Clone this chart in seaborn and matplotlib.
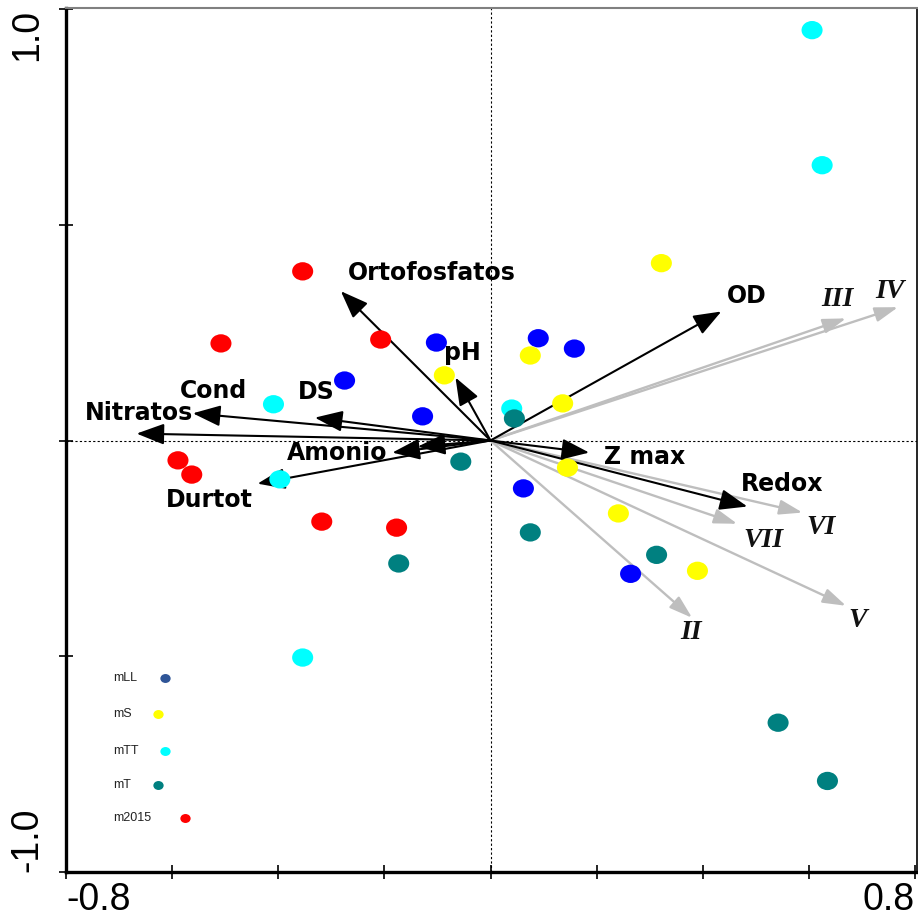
import numpy as np
import pandas as pd
import matplotlib
matplotlib.use("Agg")
import matplotlib.pyplot as plt
from matplotlib.path import Path
from matplotlib.transforms import Affine2D
import seaborn as sns

# ---------------- data ----------------
groups = ["mLL", "mS", "mTT", "mT", "m2015"]

mLL_x = [-0.102, -0.275, -0.128, 0.090, 0.158, 0.062, 0.264]
mLL_y = [0.227, 0.139, 0.056, 0.237, 0.213, -0.111, -0.309]

mS_x = [0.322, 0.075, -0.087, 0.136, 0.145, 0.241, 0.390]
mS_y = [0.411, 0.197, 0.151, 0.086, -0.063, -0.169, -0.302]

mTT_x = [0.606, 0.625, -0.409, 0.040, -0.397, -0.354]
mTT_y = [0.951, 0.638, 0.084, 0.074, -0.090, -0.503]

mT_x = [0.045, -0.056, 0.075, -0.173, 0.313, 0.542, 0.635]
mT_y = [0.051, -0.049, -0.213, -0.285, -0.265, -0.654, -0.789]

m2015_x = [-0.354, -0.508, -0.207, -0.589, -0.563, -0.318, -0.177]
m2015_y = [0.392, 0.225, 0.234, -0.046, -0.079, -0.188, -0.202]

env_names = ["Ortofosfatos", "pH", "Cond", "Nitratos", "DS", "Amonio", "",
             "Durtot", "OD", "Z max", "Redox"]
env_x = [-0.282, -0.066, -0.561, -0.667, -0.331, -0.185, -0.137,
         -0.439, 0.435, 0.186, 0.484]
env_y = [0.346, 0.146, 0.063, 0.016, 0.053, -0.028, -0.014,
         -0.100, 0.299, -0.028, -0.153]

sp_names = ["III", "IV", "VI", "VII", "V", "II"]
sp_x = [0.670, 0.768, 0.588, 0.465, 0.670, 0.380]
sp_y = [0.283, 0.309, -0.167, -0.193, -0.383, -0.411]

xtick_vals = [-0.8, -0.6, -0.4, -0.2, 0.0, 0.2, 0.4, 0.6, 0.8]
xtick_labels = ["-0.8", "", "", "", "", "", "", "", "0.8"]
ytick_vals = [-1.0, -0.5, 0.0, 0.5, 1.0]
ytick_labels = ["-1.0", "", "", "", "1.0"]

# ---------------- styles (layout) ----------------
point_colors = {"mLL": "#0000FF", "mS": "#FFFF00", "mTT": "#00FFFF",
                "mT": "#008080", "m2015": "#FF0000"}
legend_colors = {"mLL": "#2F5597", "mS": "#FFFF00", "mTT": "#00FFFF",
                 "mT": "#008080", "m2015": "#FF0000"}
# label offsets from arrow tips, in pixels
env_offsets = {"Ortofosfatos": (91, 18), "pH": (7, 25), "Cond": (21, 22),
               "Nitratos": (2, 21), "DS": (1, 26), "Amonio": (-55, 0),
               "Durtot": (-48, -16), "OD": (25, 15), "Z max": (55, -4),
               "Redox": (35, 23)}
sp_offsets = {"III": (-9, 19), "IV": (-8, 16), "VI": (18, -15),
              "VII": (26, -17), "V": (12, -15), "II": (-1, -15)}

df = pd.DataFrame({
    "x": mLL_x + mS_x + mTT_x + mT_x + m2015_x,
    "y": mLL_y + mS_y + mTT_y + mT_y + m2015_y,
    "group": (["mLL"] * len(mLL_x) + ["mS"] * len(mS_x) + ["mTT"] * len(mTT_x)
              + ["mT"] * len(mT_x) + ["m2015"] * len(m2015_x)),
})

sns.set_style("white")
plt.rcParams["font.family"] = ["DejaVu Sans"]

W, H = 918, 916
fig = plt.figure(figsize=(W / 100, H / 100), dpi=100)
L, R, T, B = 66, 917, 8, 872
ax = fig.add_axes([L / W, (H - B) / H, (R - L) / W, (B - T) / H])
ax.set_xlim(-0.8, 0.8 + 2 / 531)
ax.set_ylim(-1.0, 1.0 + 1 / 431)

# zero lines
ax.axhline(0, color="black", lw=0.8, ls=(0, (2, 2)), zorder=1)
ax.axvline(0, color="black", lw=0.8, ls=(0, (2, 2)), zorder=1)

# arrows
for name, x, y in zip(sp_names, sp_x, sp_y):
    ax.annotate("", xy=(x, y), xytext=(0, 0),
                arrowprops=dict(arrowstyle="-|>,head_length=1.0,head_width=0.32",
                                mutation_scale=14, color="#BEBEBE", lw=1.7,
                                shrinkA=0, shrinkB=0), zorder=2)
    dx, dy = sp_offsets[name]
    ax.annotate(name, xy=(x, y), xytext=(dx, dy), textcoords="offset pixels",
                ha="center", va="center", fontsize=20, fontweight="bold",
                fontstyle="italic", family=["Liberation Serif", "DejaVu Serif"],
                color="#111111", zorder=6)

for name, x, y in zip(env_names, env_x, env_y):
    ax.annotate("", xy=(x, y), xytext=(0, 0),
                arrowprops=dict(arrowstyle="-|>,head_length=1.0,head_width=0.38",
                                mutation_scale=17, color="black", lw=1.5,
                                shrinkA=0, shrinkB=0), zorder=3)
    if name:
        dx, dy = env_offsets[name]
        ax.annotate(name, xy=(x, y), xytext=(dx, dy), textcoords="offset pixels",
                    ha="center", va="center", fontsize=17, fontweight="bold",
                    color="black", zorder=6)

# points
ell = Path.unit_circle().transformed(Affine2D().scale(1.15, 1.0))
sns.scatterplot(data=df, x="x", y="y", hue="group", palette=point_colors,
                hue_order=groups, marker=ell, s=230, linewidth=0,
                legend=False, ax=ax, zorder=4)
ax.set_xlabel("")
ax.set_ylabel("")

# legend (manual)
leg_rows = [("mLL", 678, 165), ("mS", 714, 158), ("mTT", 751, 165),
            ("mT", 785, 158), ("m2015", 818, 185)]
for g, py, dotx in leg_rows:
    ay = (B - py) / (B - T)
    ax.text((113 - L) / (R - L), ay, g, transform=ax.transAxes, ha="left",
            va="center", fontsize=9, color="#222222",
            family=["Liberation Sans", "DejaVu Sans"], zorder=6)
    ax.scatter([(dotx - L) / (R - L)], [ay], transform=ax.transAxes, s=55,
               marker=ell, color=legend_colors[g], linewidth=0, zorder=6,
               clip_on=False)

# ticks
ax.set_xticks(xtick_vals)
ax.set_xticklabels(xtick_labels)
ax.set_yticks(ytick_vals)
ax.set_yticklabels(ytick_labels, rotation=90)
ax.tick_params(axis="both", direction="inout", length=10, width=1.2,
               color="black", labelcolor="black", labelsize=27,
               left=True, bottom=True)
ax.tick_params(axis="x", pad=2)
ax.tick_params(axis="y", pad=10)
for lab in ax.get_xticklabels() + ax.get_yticklabels():
    lab.set_family(["Liberation Sans", "DejaVu Sans"])
xl = ax.get_xticklabels()
xl[0].set_ha("left")
xl[-1].set_ha("right")
yl = ax.get_yticklabels()
yl[0].set_va("bottom")
yl[-1].set_va("top")

for side in ["left", "bottom"]:
    ax.spines[side].set_linewidth(2.4)
    ax.spines[side].set_color("black")
ax.spines["top"].set_linewidth(1.5)
ax.spines["top"].set_color("#808080")
ax.spines["right"].set_linewidth(1.2)
ax.spines["right"].set_color("black")

fig.savefig("out.png", dpi=100)
